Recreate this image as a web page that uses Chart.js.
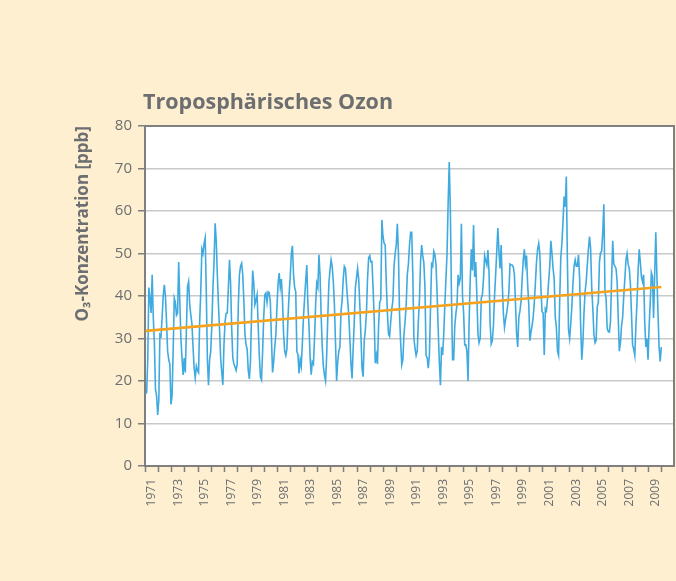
<!DOCTYPE html>
<html>
<head>
<meta charset="utf-8">
<title>Troposphärisches Ozon</title>
<script src="https://cdn.jsdelivr.net/npm/chart.js@4/dist/chart.umd.min.js"></script>
<style>
  html, body { margin: 0; padding: 0; background: #fdefcf; }
  #wrap { width: 676px; height: 581px; }
</style>
</head>
<body>
<div id="wrap"><canvas id="ozon"></canvas></div>
<script>
const chartTitle = 'Troposphärisches Ozon';
const yTitle = 'O₃-Konzentration [ppb]';
const firstYear = 1971;
const yearTicks = [];
for (let y = 1971; y <= 2010; y++) yearTicks.push(y);

// monthly means, Jan..Dec, one row per year
const ozone1970s = [
  17, 17.3, 25, 42, 39.5, 36, 45, 35, 29, 18, 16.5, 12,          // 1971
  15.5, 30.9, 30.5, 35, 40, 42.6, 40, 34, 27, 25, 24, 14.5,      // 1972
  16.5, 27, 39.5, 38.5, 35.5, 36, 48, 39, 30, 25.5, 21.4, 25.4,  // 1973
  22, 32.4, 42.2, 43.4, 38, 35.5, 33.5, 28, 23, 20.7, 23.5, 22.5,// 1974
  22, 34, 41, 51, 50, 52.4, 53.7, 41, 25, 19, 25, 26.9,          // 1975
  33, 41.8, 48, 57.1, 53, 45, 38, 32, 25.4, 22, 19.1, 28.5,      // 1976
  34, 35.9, 36, 42, 48.5, 43, 32.4, 25.5, 24, 23.3, 22.5, 24,    // 1977
  38, 45, 47, 47.7, 45, 39, 31, 28.5, 27.5, 22.5, 20.5, 24.6,    // 1978
  36, 46, 43, 38, 39, 40.3, 33, 26, 21, 20.3, 27, 35             // 1979
];
const ozone1980s = [
  40.3, 40.7, 38.5, 41, 40.8, 38.5, 30, 22, 24.5, 28, 31, 37.5,  // 1980
  43, 45.4, 42, 44, 39, 31, 27, 26, 27.5, 35, 40.5, 44.5,        // 1981
  50, 51.8, 45, 42, 41, 27, 26.2, 21.8, 25, 23.5, 29, 35,        // 1982
  39.5, 43.5, 47.3, 38, 33, 25.5, 21.5, 24.5, 24, 30, 38, 43,    // 1983
  42, 49.7, 45, 35.5, 28, 23.5, 21.4, 20, 26, 35, 43, 46,        // 1984
  48.5, 47, 43.4, 38, 29, 20, 24.6, 27, 28, 36.5, 39, 44,        // 1985
  47, 46.5, 42.5, 39, 35.5, 30, 24, 20.6, 27.7, 34, 42, 44.2,    // 1986
  46.5, 44, 38, 31, 23, 21, 29.3, 32, 36, 44, 49, 49.5,          // 1987
  48, 48.1, 42, 35, 24.2, 26.1, 24, 33, 38.5, 39.1, 57.9, 54,    // 1988
  52.4, 52, 43, 36, 31, 30.5, 34, 37, 39, 47, 50, 52             // 1989
];
const ozone1990s = [
  57, 50, 35.5, 29, 23.8, 25, 31, 34, 38, 45, 47.5, 52,          // 1990
  55, 55, 45, 30, 27.7, 26, 27, 34, 39, 48, 52, 49.5,            // 1991
  47.8, 42, 26, 25.5, 23, 26, 37, 47.5, 47, 50.5, 49.7, 47.5,    // 1992
  40.5, 32, 24.6, 19, 28, 26.1, 31, 38, 44, 50, 62, 71.5,        // 1993
  60, 40, 25, 25, 33, 35.8, 38, 45, 43, 44, 57, 40,              // 1994
  36, 28.5, 28.5, 27, 20, 34, 44, 51, 46, 56.7, 44.5, 48,        // 1995
  40, 31, 29, 30, 39.5, 40.3, 44, 49.5, 48.3, 47.3, 50.8, 45.7,  // 1996
  33.5, 28.7, 29.5, 33, 40, 45, 50.5, 56, 50.5, 46.5, 52, 43,    // 1997
  36, 32.6, 34.5, 36, 38, 41, 47.5, 47.3, 47.3, 46.8, 45, 38,    // 1998
  31, 28, 35, 36.5, 38.7, 44, 48.5, 51, 47.5, 49.5, 42.6, 38     // 1999
];
const ozone2000s = [
  29.5, 31.5, 33, 35, 38.5, 43, 48, 51, 52.4, 50, 42, 36.3,      // 2000
  36, 26.1, 37, 36.5, 39.5, 43.5, 47, 53, 50, 46.5, 44, 35,      // 2001
  32.6, 27, 26, 39, 49, 52.4, 57.5, 63.4, 61, 68.1, 48, 32,      // 2002
  30, 33.4, 37.5, 43, 47, 48.5, 47, 47, 49.7, 44.5, 33, 25,      // 2003
  29, 36, 41, 43.4, 47.3, 51, 54, 51.2, 42, 37, 31, 29,          // 2004
  29.5, 37.5, 38.5, 48, 50.2, 50.5, 55, 61.6, 41, 39.5, 32.4, 31.6, // 2005
  31.5, 34, 44, 53, 47.5, 47, 46.5, 43.4, 35, 27, 29, 33,        // 2006
  35, 40, 44, 48.5, 50, 47.5, 46.5, 43, 36, 28.5, 27.5, 26,      // 2007
  33, 38.5, 46, 51, 48, 44.5, 43.4, 45, 34, 28, 30, 25,          // 2008
  33, 38.5, 45.5, 44.5, 34.8, 45, 55, 45, 36, 28, 24.6, 28       // 2009
];
const trendValues = [31.8, 42.1]; // linear trend, first and last month

const ozone = ozone1970s.concat(ozone1980s, ozone1990s, ozone2000s);
const monthX = i => firstYear + (i + 0.5) / 12;

const textGray = '#6d6e71';
const axisGray = '#7f7f7f';
const gridGray = '#c9c9c9';

const plotFrame = {
  id: 'plotFrame',
  beforeDraw(chart) {
    const { ctx, chartArea: a } = chart;
    ctx.save();
    ctx.fillStyle = '#fdefcf';
    ctx.fillRect(0, 0, chart.width, chart.height);
    ctx.fillStyle = '#ffffff';
    ctx.fillRect(a.left, a.top, a.right - a.left, a.bottom - a.top);
    ctx.restore();
  },
  beforeDatasetsDraw(chart) {
    const { ctx, chartArea: a } = chart;
    ctx.save();
    ctx.strokeStyle = axisGray;
    ctx.lineWidth = 2;
    ctx.beginPath();
    ctx.moveTo(a.left, a.top);
    ctx.lineTo(a.right, a.top);
    ctx.lineTo(a.right, a.bottom);
    ctx.stroke();
    ctx.restore();
  },
  afterDraw(chart) {
    const { ctx, chartArea: a } = chart;
    ctx.save();
    ctx.fillStyle = textGray;
    ctx.font = 'bold 21.5px "Open Sans"';
    ctx.textBaseline = 'alphabetic';
    ctx.fillText(chartTitle, a.left - 2, 109);
    ctx.restore();
  }
};

new Chart(document.getElementById('ozon'), {
  type: 'line',
  data: {
    datasets: [{
      label: 'Trend',
      data: [
        { x: monthX(0), y: trendValues[0] },
        { x: monthX(ozone.length - 1), y: trendValues[1] }
      ],
      borderColor: '#f5a21f',
      borderWidth: 2.6,
      pointRadius: 0
    }, {
      label: 'Ozon',
      data: ozone.map((v, i) => ({ x: monthX(i), y: v })),
      borderColor: '#3faadf',
      borderWidth: 1.6,
      pointRadius: 0,
      tension: 0
    }]
  },
  options: {
    responsive: true,
    maintainAspectRatio: false,
    animation: false,
    layout: { padding: { top: 126, right: 2, left: 0, bottom: 0 } },
    plugins: {
      legend: { display: false },
      tooltip: { enabled: false }
    },
    scales: {
      x: {
        type: 'linear',
        min: firstYear,
        max: firstYear + 479 / 12,
        afterBuildTicks: s => { s.ticks = yearTicks.map(v => ({ value: v })); },
        afterFit: s => { s.height = 115; s.paddingLeft = 0; s.paddingRight = 0; },
        grid: { drawOnChartArea: false, tickLength: 6, tickColor: axisGray, tickWidth: 1.5 },
        border: { color: axisGray, width: 2 },
        ticks: {
          autoSkip: false,
          minRotation: 90,
          maxRotation: 90,
          labelOffset: 7,
          padding: 7,
          color: textGray,
          font: { family: '"Open Sans"', size: 12 },
          callback: v => (v % 2 === 1 ? String(v) : '')
        }
      },
      y: {
        min: 0,
        max: 80,
        afterFit: s => { s.width = 145; },
        grid: { color: gridGray, lineWidth: 1.5, tickLength: 7, tickColor: axisGray, tickWidth: 1.5 },
        border: { color: axisGray, width: 2 },
        ticks: {
          stepSize: 10,
          padding: 6,
          color: textGray,
          font: { family: '"Open Sans"', size: 15 }
        },
        title: {
          display: true,
          text: yTitle,
          align: 'end',
          color: textGray,
          font: { family: '"Open Sans"', size: 17, weight: 'bold' },
          padding: { top: 73, bottom: 0 }
        }
      }
    }
  },
  plugins: [plotFrame]
});
</script>
</body>
</html>
